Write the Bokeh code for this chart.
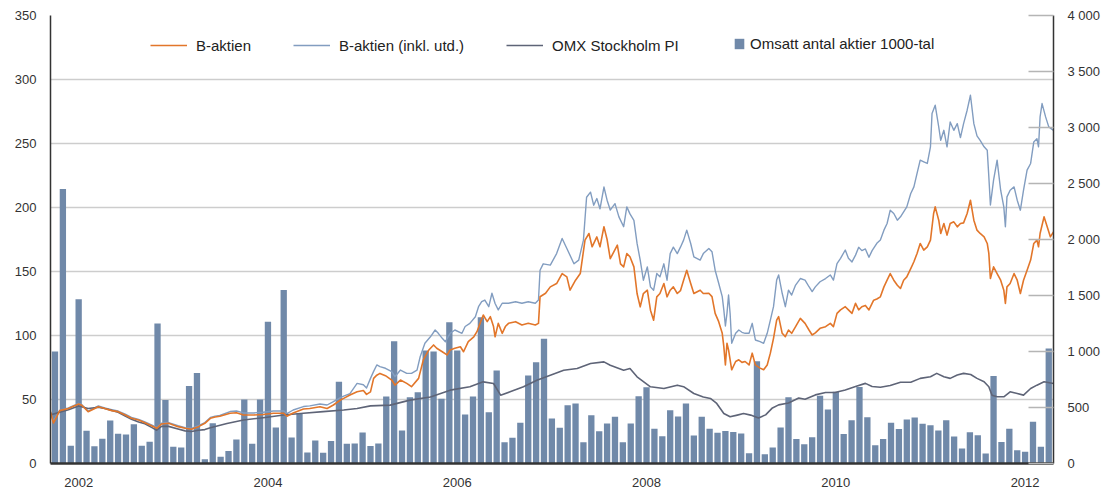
from bokeh.plotting import figure
from bokeh.models import Range1d, LinearAxis, FixedTicker, Legend, LegendItem
from bokeh.embed import file_html
from bokeh.resources import INLINE

# ---------------- data ----------------
year_labels = ["2002", "2004", "2006", "2008", "2010", "2012"]
year_month = [3, 27, 51, 75, 99, 123]          # month index of each year label

left_ticks = [0, 50, 100, 150, 200, 250, 300, 350]
right_ticks = [0, 500, 1000, 1500, 2000, 2500, 3000, 3500, 4000]
right_labels = ["0", "500", "1 000", "1 500", "2 000", "2 500", "3 000", "3 500", "4 000"]

# monthly traded volume (1000-tal), one bar per month
volume = [1000, 2450, 158, 1467, 292, 155, 220, 385, 265, 260,
          350, 158, 194, 1250, 566, 149, 143, 693, 809, 39,
          360, 60, 112, 215, 572, 176, 572, 1265, 321, 1548,
          232, 449, 98, 205, 97, 202, 729, 176, 179, 277,
          156, 179, 598, 1092, 295, 592, 637, 1009, 1000, 578,
          1262, 1009, 437, 598, 1306, 458, 830, 190, 229, 363,
          786, 905, 1113, 402, 319, 521, 536, 190, 431, 288,
          357, 417, 190, 357, 601, 681, 310, 244, 476, 420,
          536, 250, 417, 310, 274, 291, 282, 268, 92, 912,
          82, 143, 321, 592, 218, 171, 235, 604, 482, 640,
          263, 387, 684, 414, 164, 218, 363, 308, 393, 411,
          354, 342, 295, 387, 241, 134, 280, 253, 89, 782,
          191, 311, 119, 104, 372, 149, 1027]
vol_month = list(range(len(volume)))

# B-aktien
b_month = [-0.57, -0.2, 0.6, 1.7, 3.0, 3.4, 4.2, 5.5, 6.3, 7.2, 8.0, 8.9, 9.7, 10.6, 11.4,
           12.3, 12.9, 13.5, 14.4, 15.6, 16.5, 17.3, 18.2, 19.0, 19.7, 20.3,
           20.9, 22.2, 23.0, 23.9, 25.2, 26.4, 27.7, 29.0, 29.4, 30.2, 31.5, 32.3, 33.6,
           34.5, 35.3, 36.2, 36.6, 37.4, 38.3, 39.1, 39.5, 40.0, 40.4, 40.8,
           41.2, 41.9, 42.7, 43.1, 43.8, 44.6, 45.2, 46.1, 46.7, 47.4, 48.0, 48.4, 49.1,
           49.7, 50.1, 50.7, 51.4, 51.8, 52.4, 53.1, 53.5, 53.9, 54.3, 54.8, 55.2, 55.6,
           55.8, 56.2, 56.7, 57.1, 57.5, 58.4, 59.2, 60.0, 60.9, 61.3, 61.5, 62.2,
           62.8, 63.6, 64.3, 64.9, 65.3, 66.0, 66.6, 67.2, 67.7, 68.1, 68.7, 69.1, 69.6,
           70.0, 70.4, 71.3, 71.7, 72.1, 72.5, 72.9, 73.4, 73.8, 74.2, 74.6, 75.1, 75.5,
           75.9, 76.3, 76.7, 77.2, 77.6, 78.0, 78.4, 78.9, 79.3, 79.7, 80.1, 80.6, 81.0,
           81.8, 82.2, 82.9, 83.3, 83.7, 84.15, 84.6, 84.8, 85.0, 85.2, 85.4, 85.8,
           86.3, 86.7, 87.1, 87.5, 88.0, 88.4, 88.8, 89.4, 89.85, 90.3, 90.7, 91.1,
           91.5, 91.75, 92.2, 92.6, 93.0, 93.4, 93.9, 94.5, 95.1, 95.6, 96.0, 96.4,
           97.0, 97.7, 98.3, 98.7, 99.15, 99.6, 100.2, 100.6, 101.05, 101.5, 101.9,
           102.3, 102.75, 103.2, 103.6, 103.8, 104.2, 104.65, 105.1, 105.5, 105.9,
           106.35, 106.8, 107.2, 107.6, 108.0, 108.5, 108.9, 109.3, 109.7, 110.15,
           110.6, 111.0, 111.4, 111.6, 112.05, 112.3, 112.7, 113.1, 113.5, 113.96,
           114.4, 114.8, 115.2, 115.65, 116.07, 116.5, 116.9, 117.3, 117.8, 118.2,
           118.4, 118.6, 119.0, 119.45, 119.9, 120.3, 120.5, 120.7, 121.1, 121.6,
           122.0, 122.4, 122.8, 123.25, 123.7, 124.1, 124.5, 124.7, 124.9, 125.4,
           125.8, 126.2, 126.6]
b_value = [40.5, 31.6, 41.3, 43.0, 46.5, 45.5, 40.5, 44.4, 43.0, 41.3, 40.5, 37.9, 35.3, 34.0, 31.9,
           29.3, 27.5, 30.9, 31.4, 28.8, 27.5, 26.7, 28.8, 31.4, 35.3, 36.3,
           36.9, 39.2, 39.7, 37.9, 37.9, 38.3, 39.2, 39.2, 36.9, 39.5, 42.6, 43.0, 44.4,
           43.0, 45.7, 49.6, 50.9, 53.5, 56.0, 57.0, 54.0, 56.0, 66.5, 69.0,
           70.4, 68.6, 65.2, 61.3, 65.2, 62.6, 60.0, 66.5, 80.9, 88.7, 92.6, 90.0, 87.3,
           84.8, 88.7, 90.0, 91.2, 87.3, 95.2, 99.0, 103.0, 109.5, 116.0, 110.8, 114.7, 107.0,
           99.0, 109.5, 101.7, 107.0, 109.5, 110.8, 108.2, 109.5, 108.2, 109.5, 130.3, 133.0,
           138.0, 140.6, 148.4, 145.8, 135.4, 143.2, 148.4, 174.5, 179.7, 169.3, 177.0, 169.3, 185.0,
           175.0, 160.0, 170.6, 156.0, 153.6, 164.0, 161.5, 153.6, 132.8, 122.4, 132.8, 135.4, 119.8,
           112.0, 130.2, 132.8, 140.6, 130.2, 135.4, 138.0, 132.8, 135.0, 143.2, 151.0, 140.6, 132.8,
           135.4, 132.8, 133.0, 130.4, 117.3, 110.8, 101.7, 91.3, 77.0, 93.9, 88.7, 73.2,
           79.7, 81.0, 79.0, 79.7, 77.0, 86.2, 77.0, 74.5, 73.2, 77.0, 86.2, 97.8,
           112.0, 114.7, 101.7, 99.1, 104.3, 101.7, 106.9, 113.4, 109.5, 104.3, 100.4, 102.0,
           105.6, 106.9, 109.5, 106.9, 117.3, 120.0, 122.5, 120.0, 117.3, 125.1, 120.0,
           122.5, 123.5, 120.0, 125.1, 127.6, 128.5, 130.2, 138.0, 143.2, 148.4,
           143.2, 139.3, 136.7, 143.2, 145.8, 152.3, 157.6, 164.1, 171.9, 166.7,
           169.3, 174.5, 195.3, 200.5, 190.1, 179.7, 187.5, 178.4, 187.5, 188.8,
           184.9, 187.5, 188.0, 195.3, 205.7, 190.1, 182.3, 179.7, 177.1, 171.9,
           164.1, 144.5, 153.6, 148.4, 143.2, 135.4, 125.0, 138.0, 140.6, 148.4,
           143.2, 132.8, 143.2, 151.0, 158.9, 171.9, 174.5, 169.3, 179.7, 192.7,
           184.9, 177.1, 181.0]

# B-aktien (inkl. utd.)
bi_month = [-0.57, -0.2, 0.6, 1.7, 3.0, 3.4, 4.2, 5.5, 6.3, 7.2, 8.0, 8.9, 9.7, 10.6, 11.4,
            12.3, 12.9, 13.5, 14.4, 15.6, 16.5, 17.3, 18.2, 19.0, 19.7, 20.3,
            20.9, 22.2, 23.0, 23.9, 25.2, 26.4, 27.7, 29.0, 29.4, 30.2, 31.5, 32.3, 33.6,
            34.5, 35.3, 36.2, 36.6, 37.4, 38.3, 39.1, 39.5, 40.0, 40.4, 40.8,
            41.2, 41.9, 42.7, 43.1, 43.8, 44.6, 45.2, 45.9, 46.3, 46.9, 47.6, 48.2, 48.6,
            49.1, 49.5, 50.1, 50.7, 51.6, 52.0, 52.6, 53.3, 53.7, 54.1, 54.5, 55.0, 55.4,
            55.8, 56.2, 56.7, 57.5, 58.4, 59.2, 60.0, 60.9, 61.3, 61.5,
            61.9, 62.8, 63.6, 64.3, 64.9, 65.8, 66.4, 67.0, 67.4, 67.9, 68.3, 68.7, 69.1,
            69.6, 70.0, 70.4, 71.0, 71.5, 72.1, 72.5, 72.9, 73.4, 73.8, 74.2, 74.6, 75.1,
            75.5, 75.9, 76.3, 76.7, 77.2, 77.6, 78.0, 78.4, 78.9, 79.3, 79.7, 80.1, 80.6,
            81.0, 81.8, 82.2, 82.9, 83.3, 83.7, 84.15, 84.6, 84.8, 85.0, 85.2, 85.4, 85.6,
            85.8, 86.3, 86.7, 87.1, 87.5, 88.0, 88.4, 88.8, 89.4, 89.85, 90.3, 90.7,
            91.1, 91.5, 91.75, 92.2, 92.6, 93.0, 93.4, 93.9, 94.5, 95.1, 95.6, 96.0,
            96.4, 97.0, 97.7, 98.3, 98.7, 99.15, 99.6, 100.2, 100.6, 101.05, 101.5,
            101.9, 102.3, 102.75, 103.2, 103.6, 104.2, 104.65, 105.1, 105.5, 105.9,
            106.35, 106.8, 107.2, 107.6, 108.0, 108.5, 108.9, 109.3, 109.7, 110.15,
            110.6, 111.0, 111.2, 111.6, 112.05, 112.3, 112.7, 113.1, 113.5, 113.96,
            114.4, 114.8, 115.2, 115.65, 116.07, 116.5, 116.9, 117.3, 117.8, 118.2,
            118.4, 118.6, 119.0, 119.45, 119.9, 120.3, 120.5, 120.7, 121.1, 121.6,
            122.0, 122.4, 122.8, 123.25, 123.7, 124.1, 124.5, 124.7, 124.9, 125.15,
            125.6, 126.0, 126.6]
bi_value = [40.0, 33.0, 41.5, 43.5, 47.0, 46.0, 41.0, 45.0, 43.5, 42.0, 41.0, 38.5, 36.0, 34.5, 32.5,
            30.0, 28.0, 31.5, 32.0, 29.5, 28.0, 27.5, 29.5, 32.0, 36.0, 37.0,
            37.5, 40.6, 41.0, 39.5, 39.5, 40.0, 41.0, 41.0, 39.0, 41.8, 44.5, 45.0, 46.5,
            45.7, 48.3, 51.5, 52.6, 54.6, 62.6, 61.5, 59.0, 66.5, 72.0, 77.0,
            75.7, 74.4, 71.7, 67.8, 73.0, 70.4, 70.4, 73.0, 83.4, 93.9, 99.0, 104.3, 101.7,
            97.8, 95.2, 101.7, 104.3, 101.7, 107.0, 109.5, 114.7, 122.5, 126.4, 127.7, 122.5, 133.0,
            125.0, 120.0, 125.2, 125.2, 126.4, 125.2, 126.4, 125.2, 127.7, 151.0,
            156.0, 155.0, 164.0, 175.8, 168.0, 156.0, 158.9, 174.5, 208.0, 212.0, 201.8, 207.0, 199.0,
            216.0, 205.7, 198.0, 203.0, 192.7, 185.0, 200.5, 195.0, 190.0, 171.9, 158.9, 143.2, 153.6,
            138.0, 135.4, 148.4, 145.8, 156.0, 143.2, 164.0, 169.0, 164.0, 169.0, 174.5, 182.3, 171.9,
            161.5, 158.9, 164.0, 168.0, 165.5, 151.0, 140.8, 130.4, 120.0, 107.4, 117.3, 131.6, 117.0,
            93.9, 101.7, 104.3, 102.5, 101.7, 101.7, 109.5, 96.5, 95.2, 93.9, 101.7, 112.0,
            122.5, 143.3, 147.3, 133.0, 122.5, 135.4, 131.6, 139.4, 144.5, 143.3, 138.1, 134.3,
            138.0, 142.0, 144.5, 147.3, 143.3, 156.2, 160.3, 166.8, 160.3, 157.5, 162.8,
            168.9, 166.3, 167.6, 161.1, 166.3, 172.0, 174.6, 182.3, 187.5, 197.9,
            195.3, 190.1, 192.7, 196.6, 200.5, 210.9, 216.1, 226.6, 237.0, 235.7,
            234.4, 247.4, 273.4, 279.9, 262.9, 252.5, 260.3, 247.4, 266.8, 260.3,
            265.5, 254.6, 265.5, 276.0, 287.7, 265.5, 256.0, 252.5, 247.4, 244.8,
            224.0, 202.0, 221.4, 237.0, 213.5, 200.5, 185.0, 208.3, 213.5, 216.1,
            205.7, 197.9, 213.5, 229.2, 234.4, 251.2, 253.8, 247.4, 270.8, 281.2,
            270.8, 263.0, 260.3]

# OMX Stockholm PI
omx_month = [-0.57, 0.6, 1.7, 3.0, 4.2, 5.5, 6.3, 7.2, 8.0, 8.9, 9.7, 10.6, 11.4, 12.3, 12.9,
             13.5, 14.4, 15.6, 16.5, 17.3, 18.2, 19.0, 19.7, 21.8, 23.9, 26.4, 29.0, 31.5,
             34.0, 36.6, 38.3, 40.0, 42.5, 45.0, 47.6, 50.1, 52.6, 54.3, 55.6, 56.5, 57.7,
             59.4, 61.1, 62.8, 64.5, 66.2, 67.9, 69.6, 70.4, 72.1, 72.9, 73.8, 75.5, 77.2,
             78.9, 79.7, 81.0, 82.2, 83.1, 83.9, 84.8, 85.6, 86.5, 87.3, 88.2, 89.2, 90.1,
             90.9, 91.75, 93.0, 94.3, 95.1, 96.4, 97.7, 98.9, 100.2, 101.5, 102.75, 103.6,
             104.65, 105.9, 107.2, 108.5, 109.7, 111.0, 111.8, 112.7, 113.5, 114.4, 115.2,
             116.1, 116.9, 117.8, 118.4, 118.8, 119.45, 120.3, 121.1, 122.0, 122.8, 123.7,
             124.5, 125.4, 126.6]
omx_value = [38.0, 40.0, 42.0, 45.0, 43.0, 44.0, 43.0, 41.5, 40.0, 37.0, 34.5, 32.5, 31.0, 28.0, 26.0,
             29.0, 29.0, 27.0, 25.5, 25.0, 26.0, 26.5, 28.0, 31.3, 34.0, 35.8, 37.9, 39.2,
             40.5, 41.8, 43.0, 45.0, 45.6, 49.5, 52.0, 57.3, 59.9, 63.8, 62.5, 53.4, 56.0,
             59.9, 65.1, 69.0, 72.9, 74.2, 78.1, 79.4, 76.8, 72.9, 74.2, 67.7, 59.9, 58.6,
             61.2, 60.0, 54.7, 52.0, 50.8, 46.9, 39.0, 36.5, 37.8, 39.0, 37.8, 35.5, 38.0,
             43.1, 45.8, 47.3, 51.2, 50.2, 53.6, 55.5, 55.5, 57.4, 60.1, 62.6, 60.1,
             59.6, 61.0, 63.5, 63.5, 66.5, 67.8, 70.4, 67.8, 66.5, 69.1, 70.4,
             69.5, 66.5, 63.9, 59.9, 53.4, 52.1, 52.1, 56.0, 54.7, 53.4, 58.6,
             61.2, 63.8, 62.5]

# ---------------- styling ----------------
FONT = "Liberation Sans"
C_ORANGE = "#E2762A"
C_BLUE = "#829DC0"
C_OMX = "#5E6477"
C_BAR = "#7089A9"
C_GRID = "#CDCDCD"
C_AXIS = "#333333"

p = figure(width=1103, height=490, output_backend="svg", toolbar_location=None,
           x_range=Range1d(-0.57, 126.6), y_range=Range1d(0, 350),
           min_border_left=50, min_border_right=50, min_border_top=15, min_border_bottom=27)
p.outline_line_color = None
p.background_fill_color = "white"
p.border_fill_color = "white"
p.extra_y_ranges = {"vol": Range1d(0, 4000)}

r_vol = p.vbar(x=vol_month, top=volume, bottom=0, width=0.8, y_range_name="vol",
               fill_color=C_BAR, line_color=None)
r_bi = p.line(bi_month, bi_value, line_color=C_BLUE, line_width=1.4, line_join="round")
r_omx = p.line(omx_month, omx_value, line_color=C_OMX, line_width=1.6, line_join="round")
r_b = p.line(b_month, b_value, line_color=C_ORANGE, line_width=1.6, line_join="round")

# left axis
ya = p.yaxis[0]
ya.ticker = FixedTicker(ticks=left_ticks)
ya.major_tick_in = 0
ya.major_tick_out = 0
ya.minor_tick_in = 0
ya.minor_tick_out = 0
ya.axis_line_color = C_AXIS
ya.axis_line_width = 1.5
ya.major_label_standoff = 14
ya.major_label_text_font = FONT
ya.major_label_text_font_size = "13px"
ya.major_label_text_color = "#333333"

# bottom axis
xa = p.xaxis[0]
xa.ticker = FixedTicker(ticks=year_month)
xa.major_label_overrides = {m: lab for m, lab in zip(year_month, year_labels)}
xa.major_tick_in = 0
xa.major_tick_out = 0
xa.minor_tick_in = 0
xa.minor_tick_out = 0
xa.axis_line_color = C_AXIS
xa.axis_line_width = 2.5
xa.major_label_standoff = 14
xa.major_label_text_font = FONT
xa.major_label_text_font_size = "13px"
xa.major_label_text_color = "#333333"

# right axis
ra = LinearAxis(y_range_name="vol", ticker=FixedTicker(ticks=right_ticks))
ra.major_label_overrides = {t: lab for t, lab in zip(right_ticks, right_labels)}
ra.major_tick_in = 25
ra.major_tick_out = 0
ra.minor_tick_in = 0
ra.minor_tick_out = 0
ra.major_tick_line_color = "#B5B5B5"
ra.major_tick_line_width = 1.3
ra.axis_line_color = C_AXIS
ra.axis_line_width = 1.5
ra.major_label_standoff = 14
ra.major_label_text_font = FONT
ra.major_label_text_font_size = "13px"
ra.major_label_text_color = "#333333"
p.add_layout(ra, "right")

p.xgrid.visible = False
p.ygrid.grid_line_color = C_GRID
p.ygrid.grid_line_width = 1.3

leg1 = Legend(items=[LegendItem(label="B-aktien", renderers=[r_b]),
                     LegendItem(label="B-aktien (inkl. utd.)", renderers=[r_bi]),
                     LegendItem(label="OMX Stockholm PI", renderers=[r_omx])],
              orientation="horizontal", location=(100, 408),
              glyph_width=37, glyph_height=20, label_height=20, label_standoff=9, spacing=42,
              padding=0, margin=0, border_line_color=None, background_fill_alpha=0,
              label_text_font=FONT, label_text_font_size="15px", label_text_color="#222222")
leg2 = Legend(items=[LegendItem(label="Omsatt antal aktier 1000-tal", renderers=[r_vol])],
              orientation="horizontal", location=(683, 411.5),
              glyph_width=12, glyph_height=13, label_height=13, label_standoff=5,
              padding=0, margin=0, border_line_color=None, background_fill_alpha=0,
              label_text_font=FONT, label_text_font_size="15px", label_text_color="#222222")
p.add_layout(leg1)
p.add_layout(leg2)

open("out.html", "w").write(file_html(p, INLINE))
